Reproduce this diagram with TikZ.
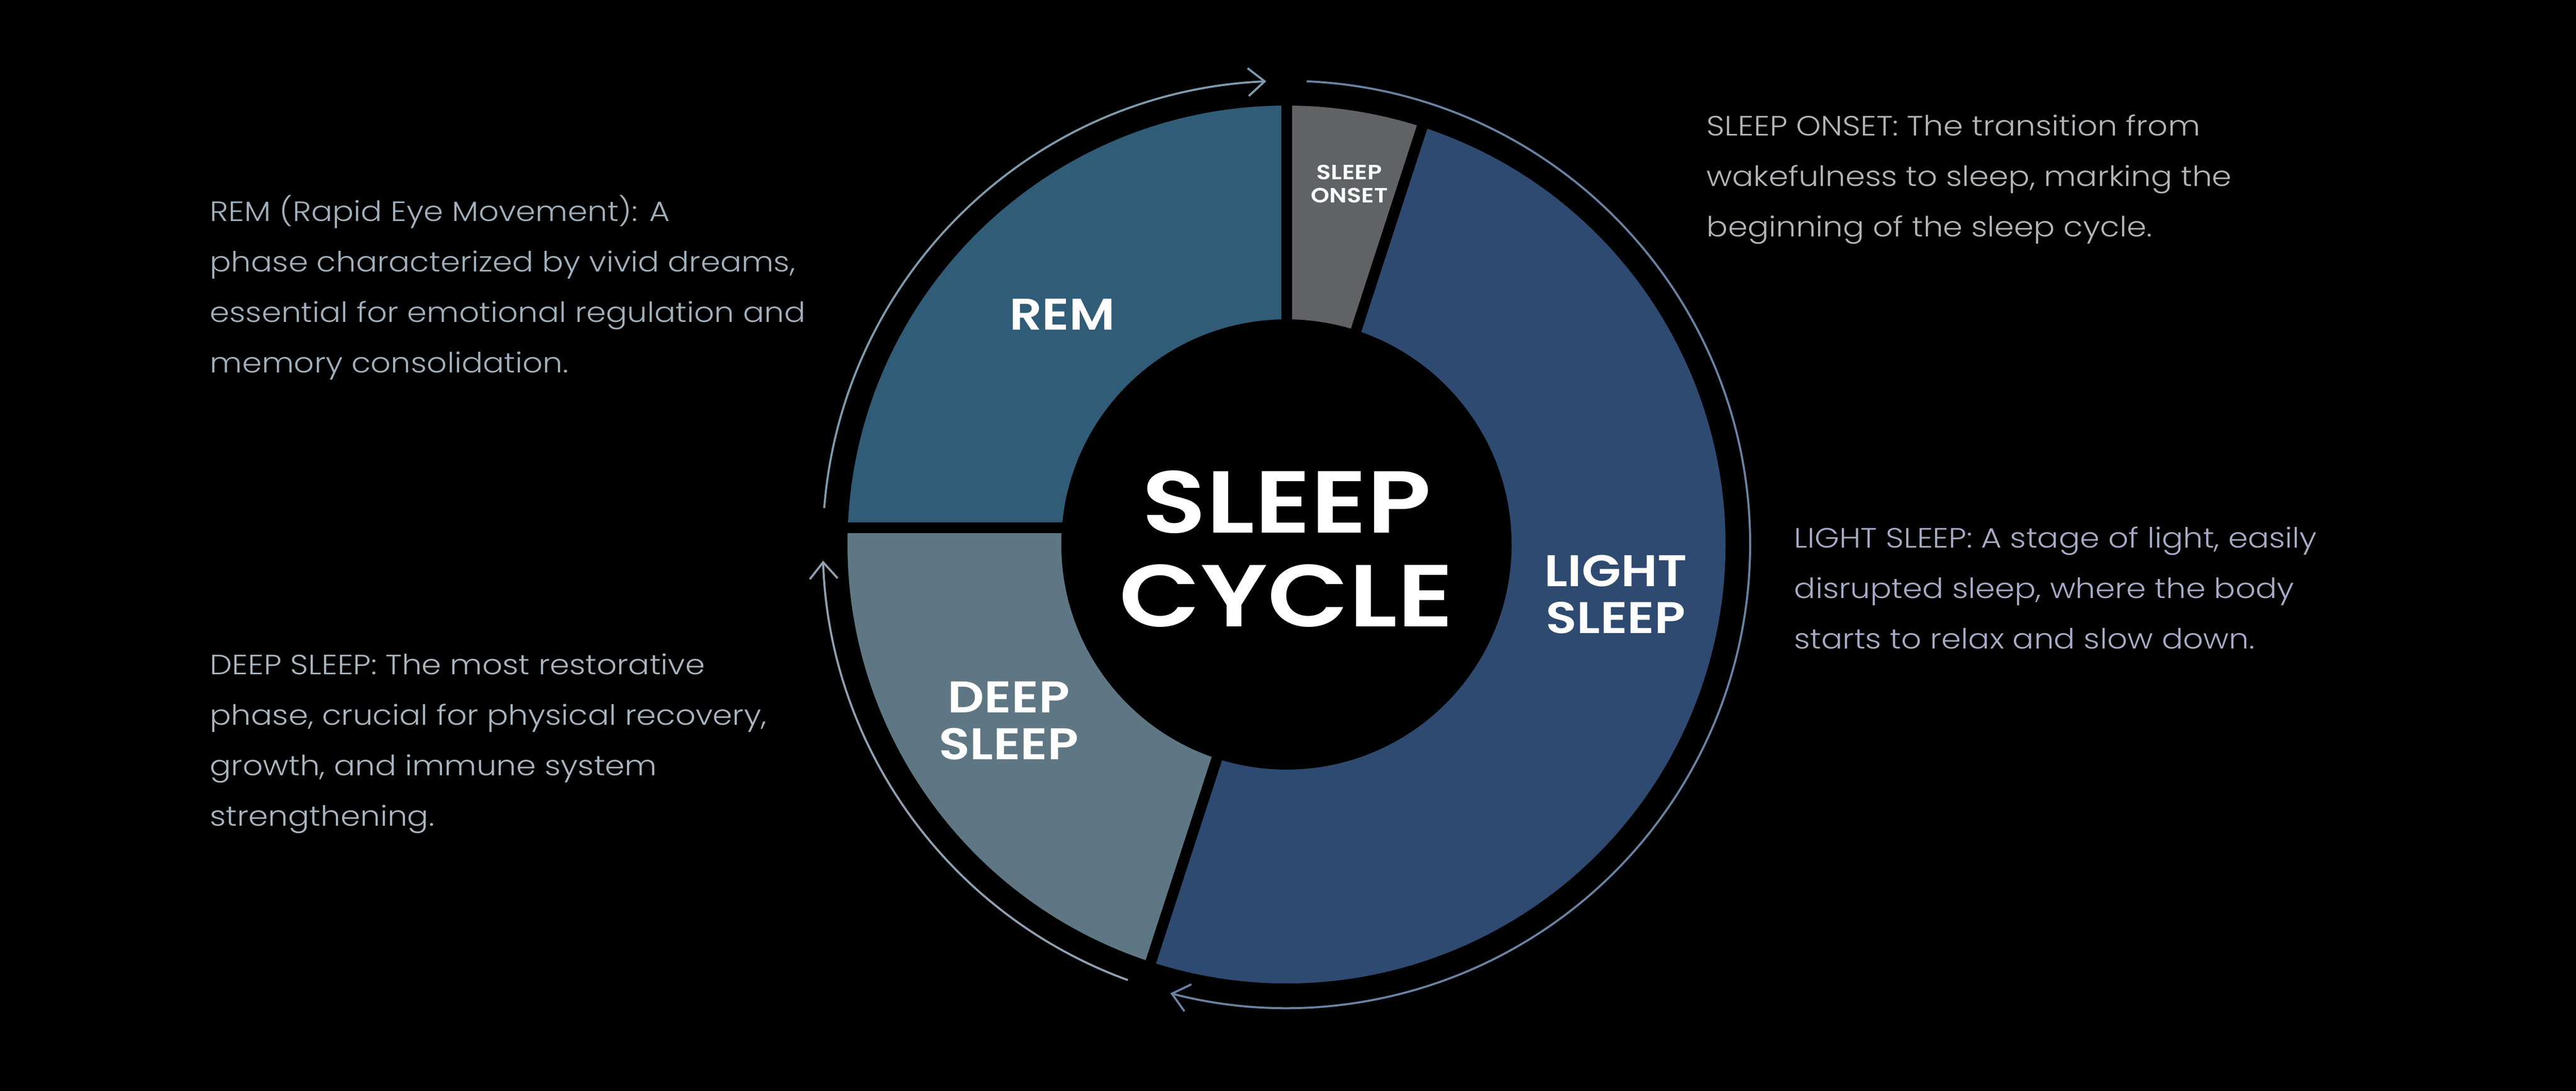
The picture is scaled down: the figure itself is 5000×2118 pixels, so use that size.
\documentclass[tikz,border=0pt]{standalone}
\usepackage{fontspec}
\usetikzlibrary{arrows.meta}
\IfFontExistsTF{Poppins SemiBold}{%
  \newfontfamily\titlef{Poppins SemiBold}[FakeStretch=1.2]%
  \newfontfamily\boldf{Poppins SemiBold}[FakeStretch=1.15]}{%
  \newfontfamily\titlef{Poppins}[FakeBold=1.5,FakeStretch=1.2]%
  \newfontfamily\boldf{Poppins}[FakeBold=1.5,FakeStretch=1.15]}
\IfFontExistsTF{Poppins Light}{\newfontfamily\lightf{Poppins Light}[FakeStretch=1.13]}{\newfontfamily\lightf{Poppins}[FakeStretch=1.13]}
\definecolor{remc}{HTML}{305C77}
\definecolor{deepc}{HTML}{5F7784}
\definecolor{lightc}{HTML}{2E4A71}
\definecolor{onsetc}{HTML}{616266}
\definecolor{arcA}{HTML}{7E9BAD}
\definecolor{arcB}{HTML}{6A82A3}
\definecolor{arcC}{HTML}{8FA1B2}
\definecolor{txtrem}{HTML}{A0B0BC}
\definecolor{txtdeep}{HTML}{A9B5C0}
\definecolor{txtonset}{HTML}{B4B4B6}
\definecolor{txtlight}{HTML}{A6ACC6}
\tikzset{
  gapline/.style={draw=black, line width=2.1mm},
  cyclearc/.style={line width=0.4mm, -{Straight Barb[length=3.2mm,width=5.4mm]}},
  bigtitle/.style={text=white, inner sep=0pt, align=center, anchor=base,
     font=\titlef\fontsize{48.6pt}{52pt}\selectfont},
  seglabel/.style={text=white, inner sep=0pt, align=center, anchor=base,
     font=\boldf\fontsize{24.5pt}{25.9pt}\selectfont},
  smalllabel/.style={text=white, inner sep=0pt, align=center, anchor=base,
     font=\boldf\fontsize{11.4pt}{12.8pt}\selectfont},
  desc/.style={inner sep=0pt, align=left, anchor=base west,
     font=\lightf\fontsize{15.4pt}{27.9pt}\selectfont}
}
\begin{document}
\begin{tikzpicture}[x=0.1mm,y=0.1mm]
\useasboundingbox (0,0) rectangle (5000,2118);
\fill[black] (0,0) rectangle (5000,2118);
\coordinate (C) at (2497,1061);
% segments
\fill[onsetc] (C) -- ++(90:852) arc[start angle=90,end angle=72,radius=852] -- cycle;
\fill[lightc] (C) -- ++(72:852) arc[start angle=72,end angle=-108,radius=852] -- cycle;
\fill[deepc] (C) -- ++(-108:852) arc[start angle=-108,end angle=-180,radius=852] -- cycle;
\fill[remc] (C) -- ++(180:852) arc[start angle=180,end angle=90,radius=852] -- cycle;
\begin{scope}
  \clip (C) circle (852);
  \fill[deepc] (C) ++(-900,0) rectangle ++(900,32);
\end{scope}
% inner hole
\fill[black] (C) circle (437);
% gaps
\draw[gapline] (C) -- ++(90:880);
\draw[gapline] (C) -- ++(72:880);
\draw[gapline] (C) -- ++(-108:880);
\draw[gapline] (C) ++(0,32) -- ++(-880,0);
% cycle arcs
\draw[cyclearc, draw=arcA] (C) ++(175.5:900) arc[start angle=175.5,end angle=92.5,radius=900];
\draw[cyclearc, draw=arcB] (C) ++(87.5:900) arc[start angle=87.5,end angle=-104.5,radius=900];
\draw[cyclearc, draw=arcC] (C) ++(-110:900) arc[start angle=-110,end angle=-178,radius=900];
% labels (anchor base = baseline of the last line)
\node[bigtitle] (title) at (2497,901) {SLEEP\\CYCLE};
\node[seglabel] (remlab) at (2062,1477) {REM};
\node[seglabel] (lightlab) at (3136,888) {LIGHT\\SLEEP};
\node[seglabel] (deeplab) at (1958,643) {DEEP\\SLEEP};
\node[smalllabel] (onsetlab) at (2619,1724) {SLEEP\\ONSET};
% descriptions
\node[desc, text=txtrem] (remdesc) at (407,1394) {REM (Rapid Eye Movement): A\\phase characterized by vivid dreams,\\essential for emotional regulation and\\memory consolidation.};
\node[desc, text=txtdeep] (deepdesc) at (407,514) {DEEP SLEEP: The most restorative\\phase, crucial for physical recovery,\\growth, and immune system\\strengthening.};
\node[desc, text=txtonset] (onsetdesc) at (3312,1658) {SLEEP ONSET: The transition from\\wakefulness to sleep, marking the\\beginning of the sleep cycle.};
\node[desc, text=txtlight] (lightdesc) at (3482,858) {LIGHT SLEEP: A stage of light, easily\\disrupted sleep, where the body\\starts to relax and slow down.};
\end{tikzpicture}
\end{document}
